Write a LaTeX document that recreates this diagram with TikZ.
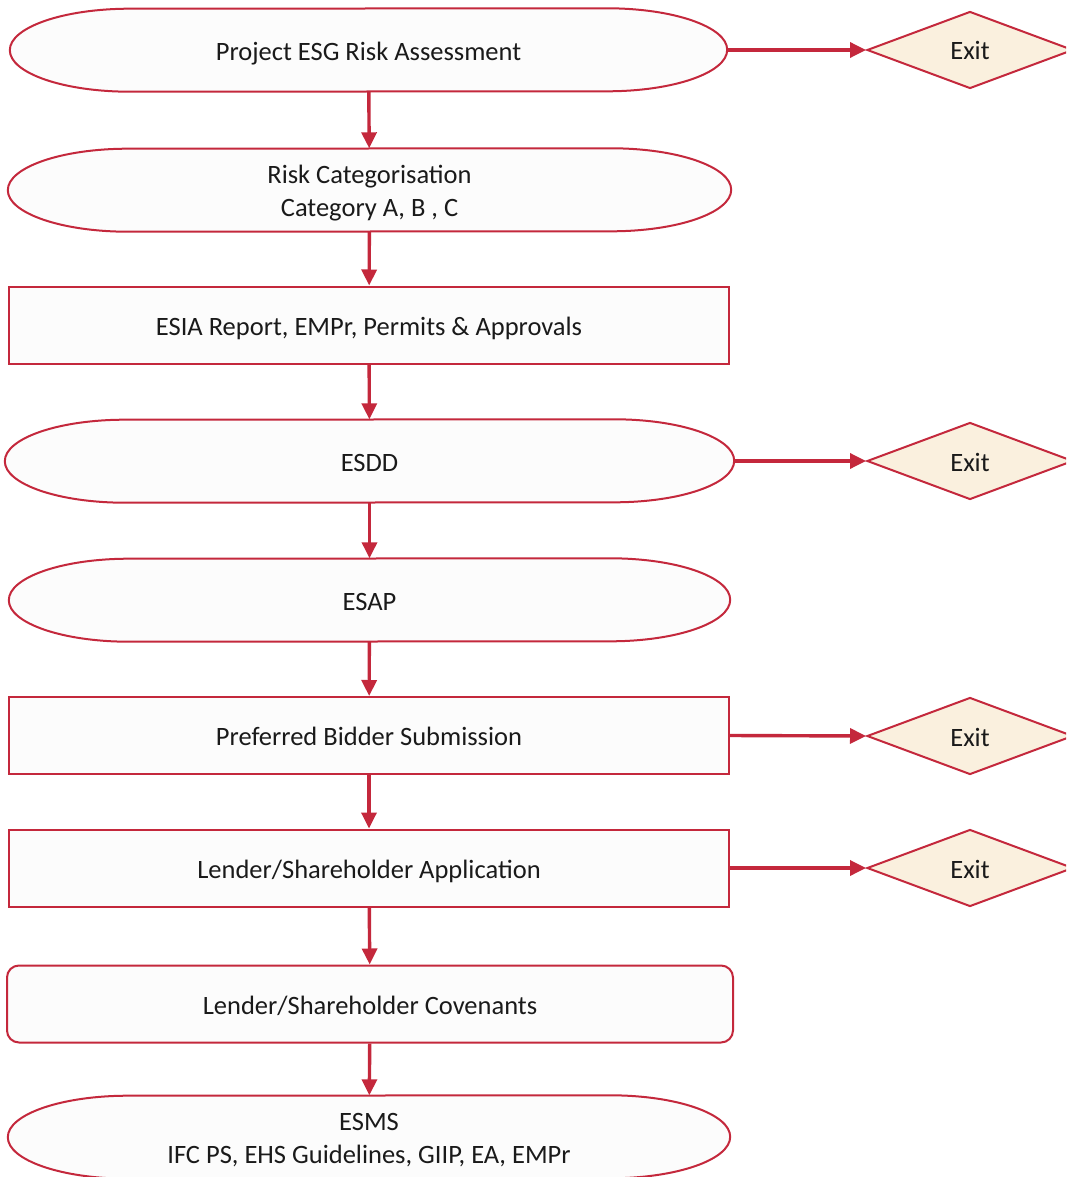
\documentclass[tikz,border=0pt]{standalone}
\usepackage{fontspec}
\setmainfont{Carlito}
\usetikzlibrary{shapes.geometric,arrows.meta}
\definecolor{esgred}{HTML}{C4283C}
\definecolor{boxfill}{HTML}{FCFCFC}
\definecolor{exitfill}{HTML}{FAF0DE}
\definecolor{txt}{HTML}{1A1A1A}
\tikzset{
  base/.style={draw=esgred, line width=2pt, fill=boxfill, inner sep=0pt},
  oval/.style={rectangle, inner sep=0pt, minimum height=83pt},
  pillline/.style={draw=esgred, line width=2pt, fill=boxfill},
  stepbox/.style={base, rectangle, minimum height=77pt, minimum width=720pt},
  roundbox/.style={base, rectangle, rounded corners=12pt, minimum height=77pt, minimum width=726pt},
  exitnode/.style={base, diamond, fill=exitfill, minimum width=206pt, minimum height=77pt},
  lbl/.style={anchor=base, inner sep=0pt, text=txt, font=\fontsize{26.5}{33}\selectfont},
  flow/.style={draw=esgred, line width=3.4pt, -{Triangle[length=16pt,width=15pt]}}
}
% pill outline with elliptical ends (radius 120pt x 41.5pt)
\newcommand\drawpill[1]{%
  \path[pillline] ([xshift=-120pt]#1.north east)
     arc[start angle=90, end angle=-90, x radius=120pt, y radius=41.5pt]
     -- ([xshift=120pt]#1.south west)
     arc[start angle=270, end angle=90, x radius=120pt, y radius=41.5pt]
     -- cycle;}
\begin{document}
\begin{tikzpicture}[x=1pt,y=-1pt]
\clip (0,0) rectangle (1066,1177);
\fill[white] (0,0) rectangle (1066,1177);
% shapes
\node[oval, minimum width=717pt] (n1) at (368.5,50) {};
\node[oval, minimum width=723pt] (n2) at (369.5,190) {};
\node[stepbox] (n3) at (369,325) {};
\node[oval, minimum width=729pt] (n4) at (369.5,461) {};
\node[oval, minimum width=721pt] (n5) at (369.5,600) {};
\node[stepbox] (n6) at (369,735.5) {};
\node[stepbox] (n7) at (369,868) {};
\node[roundbox] (n8) at (370,1004) {};
\node[oval, minimum width=722pt] (n9) at (369,1137) {};
\drawpill{n1}
\drawpill{n2}
\drawpill{n4}
\drawpill{n5}
\drawpill{n9}
\node[exitnode] (e1) at (970,50) {};
\node[exitnode] (e2) at (970,461) {};
\node[exitnode] (e3) at (970,736) {};
\node[exitnode] (e4) at (970,868) {};
% labels
\node[lbl] (t1) at ([yshift=-10.5pt]n1.center) {Project ESG Risk Assessment};
\node[lbl] (t2a) at ([yshift=7pt]n2.center) {Risk Categorisation};
\node[lbl] (t2b) at ([yshift=-26pt]n2.center) {Category A, B , C};
\node[lbl] (t3) at ([yshift=-10pt]n3.center) {ESIA Report, EMPr, Permits \& Approvals};
\node[lbl] (t4) at ([yshift=-10pt]n4.center) {ESDD};
\node[lbl] (t5) at ([yshift=-10pt]n5.center) {ESAP};
\node[lbl] (t6) at ([yshift=-10pt]n6.center) {Preferred Bidder Submission};
\node[lbl] (t7) at ([yshift=-10pt]n7.center) {Lender/Shareholder Application};
\node[lbl] (t8) at ([yshift=-10pt]n8.center) {Lender/Shareholder Covenants};
\node[lbl] (t9a) at ([yshift=7pt]n9.center) {ESMS};
\node[lbl] (t9b) at ([yshift=-26pt]n9.center) {IFC PS, EHS Guidelines, GIIP, EA, EMPr};
\node[lbl] (x1) at ([yshift=-10pt]e1.center) {Exit};
\node[lbl] (x2) at ([yshift=-10pt]e2.center) {Exit};
\node[lbl] (x3) at ([yshift=-10pt]e3.center) {Exit};
\node[lbl] (x4) at ([yshift=-10pt]e4.center) {Exit};
% connectors
\draw[flow] (n1) -- (n2);
\draw[flow] (n2) -- (n3);
\draw[flow] (n3) -- (n4);
\draw[flow] (n4) -- (n5);
\draw[flow] (n5) -- (n6);
\draw[flow] (n6) -- (n7);
\draw[flow] (n7) -- (n8);
\draw[flow] (n8) -- (n9);
\draw[flow] (n1.east) -- (e1.west);
\draw[flow] (n4.east) -- (e2.west);
\draw[flow] (n6.east) -- (e3.west);
\draw[flow] (n7.east) -- (e4.west);
\end{tikzpicture}
\end{document}
